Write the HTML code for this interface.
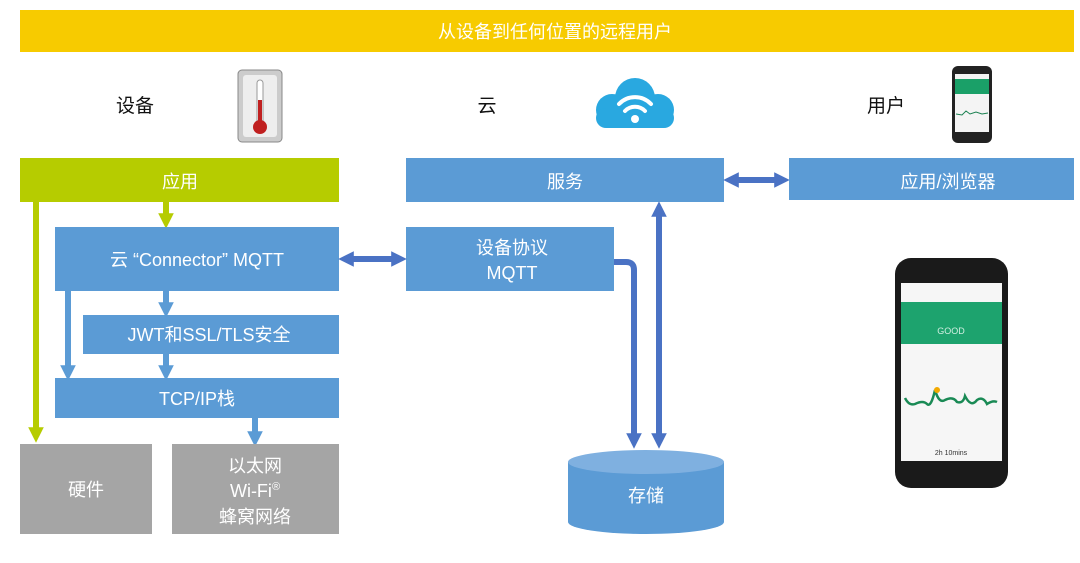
<!DOCTYPE html>
<html><head><meta charset="utf-8"><style>
html,body{margin:0;padding:0;background:#fff;}
svg text{font-family:"Liberation Sans","Noto Sans CJK SC",sans-serif;}
</style></head><body>
<svg width="1080" height="558" viewBox="0 0 1080 558" xmlns="http://www.w3.org/2000/svg">
<defs>
<marker id="ab" viewBox="0 0 10 10" refX="5" refY="5" markerWidth="2.6" markerHeight="2.6" orient="auto-start-reverse"><path d="M0,0 L10,5 L0,10 z" fill="#4a72c4"/></marker>
<marker id="ab2" viewBox="0 0 10 10" refX="5" refY="5" markerWidth="2.6" markerHeight="2.6" orient="auto-start-reverse"><path d="M0,0 L10,5 L0,10 z" fill="#5b9bd5"/></marker>
<marker id="ag" viewBox="0 0 10 10" refX="5" refY="5" markerWidth="2.6" markerHeight="2.6" orient="auto-start-reverse"><path d="M0,0 L10,5 L0,10 z" fill="#b6cc00"/></marker>
</defs>
<rect x="20" y="10" width="1054" height="42" fill="#f7cb00"/>
<text x="555" y="38" font-size="18" fill="#fff" text-anchor="middle">从设备到任何位置的远程用户</text>

<text x="135" y="112" font-size="19" fill="#111" text-anchor="middle">设备</text>
<text x="487" y="112" font-size="19" fill="#111" text-anchor="middle">云</text>
<text x="886" y="112" font-size="19" fill="#111" text-anchor="middle">用户</text>

<rect x="238" y="70" width="44" height="72" rx="4" fill="#ccc" stroke="#888"/>
<rect x="243" y="75" width="34" height="62" rx="3" fill="#eee"/>
<rect x="257" y="80" width="6" height="44" rx="3" fill="#fff" stroke="#999"/>
<rect x="258" y="100" width="4" height="26" fill="#c02020"/>
<circle cx="260" cy="127" r="7" fill="#c02020"/>
<g fill="#29a8e0">
<circle cx="612" cy="110" r="16"/><circle cx="635" cy="98" r="20"/><circle cx="658" cy="110" r="16"/>
<rect x="596" y="108" width="78" height="20" rx="10"/>
</g>
<g fill="none" stroke="#fff" stroke-width="4" stroke-linecap="round">
<path d="M619,104 A22,22 0 0 1 651,104"/><path d="M625,111 A14,14 0 0 1 645,111"/>
</g>
<circle cx="635" cy="119" r="4" fill="#fff"/>
<rect x="952" y="66" width="40" height="77" rx="6" fill="#222"/>
<rect x="955" y="74" width="34" height="58" fill="#f4f4f4"/>
<rect x="955" y="79" width="34" height="15" fill="#1aa068"/>
<path d="M956,114 l6,1 l4,-4 l4,3 l6,-2 l6,2 l6,-1" fill="none" stroke="#1a8050" stroke-width="1"/>

<rect x="20" y="158" width="319" height="44" fill="#b6cc00"/>
<text x="180" y="188" font-size="18" fill="#fff" text-anchor="middle">应用</text>
<line x1="36" y1="202" x2="36" y2="435" stroke="#b6cc00" stroke-width="6" marker-end="url(#ag)"/>
<line x1="166" y1="202" x2="166" y2="221" stroke="#b6cc00" stroke-width="6" marker-end="url(#ag)"/>

<rect x="55" y="227" width="284" height="64" fill="#5b9bd5"/>
<text x="197" y="266" font-size="18" fill="#fff" text-anchor="middle">云 “Connector” MQTT</text>
<rect x="83" y="315" width="256" height="39" fill="#5b9bd5"/>
<text x="209" y="341" font-size="18" fill="#fff" text-anchor="middle">JWT和SSL/TLS安全</text>
<rect x="55" y="378" width="284" height="40" fill="#5b9bd5"/>
<text x="197" y="405" font-size="18" fill="#fff" text-anchor="middle">TCP/IP栈</text>

<g stroke="#5b9bd5" stroke-width="6">
<line x1="166" y1="291" x2="166" y2="310" marker-end="url(#ab2)"/>
<line x1="166" y1="354" x2="166" y2="373" marker-end="url(#ab2)"/>
<line x1="68" y1="291" x2="68" y2="373" marker-end="url(#ab2)"/>
<line x1="255" y1="418" x2="255" y2="439" marker-end="url(#ab2)"/>
</g>

<rect x="20" y="444" width="132" height="90" fill="#a5a5a5"/>
<text x="86" y="496" font-size="18" fill="#fff" text-anchor="middle">硬件</text>
<rect x="172" y="444" width="167" height="90" fill="#a5a5a5"/>
<text x="255" y="472" font-size="18" fill="#fff" text-anchor="middle">以太网</text>
<text x="255" y="497" font-size="18" fill="#fff" text-anchor="middle">Wi-Fi<tspan font-size="11" dy="-7">®</tspan></text>
<text x="255" y="523" font-size="18" fill="#fff" text-anchor="middle">蜂窝网络</text>

<rect x="406" y="158" width="318" height="44" fill="#5b9bd5"/>
<text x="565" y="188" font-size="18" fill="#fff" text-anchor="middle">服务</text>
<rect x="406" y="227" width="208" height="64" fill="#5b9bd5"/>
<text x="512" y="254" font-size="18" fill="#fff" text-anchor="middle">设备协议</text>
<text x="512" y="279" font-size="18" fill="#fff" text-anchor="middle">MQTT</text>

<line x1="346" y1="259" x2="399" y2="259" stroke="#4a72c4" stroke-width="6" marker-start="url(#ab)" marker-end="url(#ab)"/>
<line x1="731" y1="180" x2="782" y2="180" stroke="#4a72c4" stroke-width="6" marker-start="url(#ab)" marker-end="url(#ab)"/>
<line x1="659" y1="209" x2="659" y2="441" stroke="#4a72c4" stroke-width="6" marker-start="url(#ab)" marker-end="url(#ab)"/>
<path d="M614,262 H626 Q634,262 634,270 V441" fill="none" stroke="#4a72c4" stroke-width="6" marker-end="url(#ab)"/>

<path d="M568,462 V522 A78,12 0 0 0 724,522 V462" fill="#5b9bd5"/>
<ellipse cx="646" cy="462" rx="78" ry="12" fill="#7fb0e0"/>
<text x="646" y="502" font-size="18" fill="#fff" text-anchor="middle">存储</text>

<rect x="789" y="158" width="285" height="42" fill="#5b9bd5"/>
<text x="948" y="188" font-size="18" fill="#fff" text-anchor="middle">应用/浏览器</text>

<rect x="895" y="258" width="113" height="230" rx="16" fill="#1a1a1a"/>
<rect x="901" y="283" width="101" height="178" fill="#f6f6f6"/>
<rect x="901" y="302" width="101" height="42" fill="#1da36e"/>
<text x="951" y="334" font-size="9" fill="#cfeee0" text-anchor="middle">GOOD</text>
<path d="M905,398 q4,8 10,6 q8,-4 12,0 q4,4 8,-14 q4,14 10,10 q8,-4 12,2 q6,2 8,-6 q6,12 12,4 q6,-4 10,4 q6,-4 10,-2" fill="none" stroke="#1a8a55" stroke-width="2.5"/>
<circle cx="937" cy="390" r="3" fill="#f2a900"/>
<text x="951" y="455" font-size="7" fill="#333" text-anchor="middle">2h 10mins</text>
</svg>
</body></html>
